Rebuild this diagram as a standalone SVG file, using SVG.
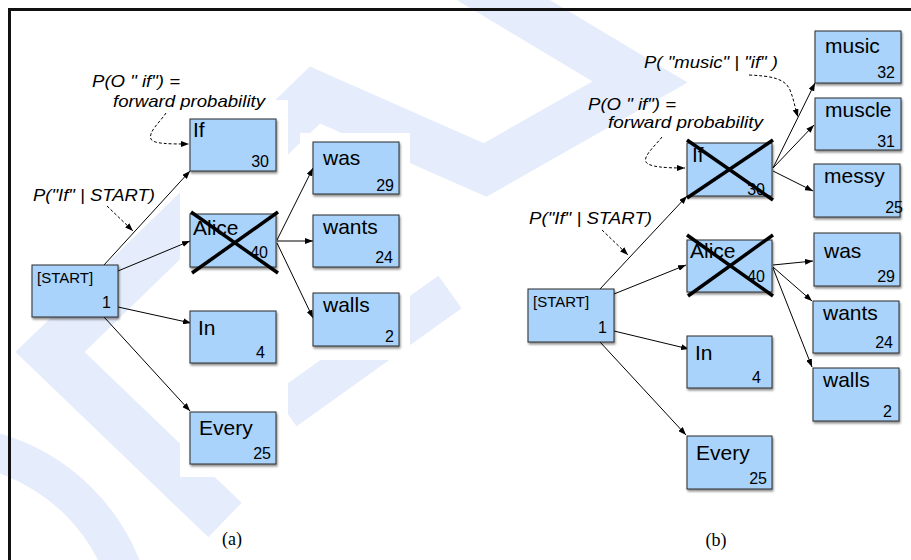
<svg xmlns="http://www.w3.org/2000/svg" width="911" height="560" viewBox="0 0 911 560">
<defs>
<marker id="ah" markerWidth="8" markerHeight="6" refX="8" refY="3" orient="auto" markerUnits="userSpaceOnUse"><path d="M0,0 L8,3 L0,6 z" fill="#000"/></marker>
<filter id="sh" x="-10%" y="-10%" width="130%" height="140%"><feDropShadow dx="1" dy="2" stdDeviation="1.2" flood-color="#000" flood-opacity="0.45"/></filter>
</defs>
<style>
.box{fill:#a9d3fb;stroke:#2b2b2b;stroke-width:1;filter:url(#sh)}
.lbl{font-family:"Liberation Sans",Arial,sans-serif;font-size:21px;fill:#000}
.st{font-size:15px}
.num{font-family:"Liberation Sans",Arial,sans-serif;font-size:16px;fill:#000;text-anchor:end}
.ann{font-family:"Liberation Sans",Arial,sans-serif;font-size:17px;font-style:italic;fill:#000}
.cap{font-family:"Liberation Serif","Times New Roman",serif;font-size:18px;text-anchor:middle;fill:#000}
.edge{stroke:#000;stroke-width:1;fill:none;marker-end:url(#ah)}
.dash{stroke:#000;stroke-width:1;fill:none;stroke-dasharray:3 2;marker-end:url(#ah)}
.x{stroke:#000;stroke-width:3.5}
.wm{fill:none;stroke:#e5ecfb}
</style>
<rect width="911" height="560" fill="#fff"/>
<g id="watermark">
<polyline class="wm" stroke-width="48" stroke-linejoin="miter" stroke-miterlimit="10" points="225,520 50,352 315,95 485,170 640,82 470,-20"/>
<circle class="wm" cx="-60" cy="640" r="196" stroke-width="38"/>
<line class="wm" x1="450" y1="292" x2="285" y2="410" stroke-width="40"/>
<rect x="180" y="100" width="108" height="377" fill="#fff"/>
<rect x="300" y="133" width="110" height="227" fill="#fff"/>
</g>
<path d="M9.5,560 V9.5 H911" fill="none" stroke="#111" stroke-width="3"/>
<g id="connectors">
<line class="edge" x1="104" y1="265" x2="190" y2="171"/>
<line class="edge" x1="118" y1="271" x2="190" y2="241"/>
<line class="edge" x1="118" y1="307" x2="191" y2="323"/>
<line class="edge" x1="104" y1="317" x2="190" y2="411"/>
<line class="edge" x1="277" y1="240" x2="313" y2="168"/>
<line class="edge" x1="277" y1="241" x2="313" y2="241"/>
<line class="edge" x1="277" y1="243" x2="313" y2="318"/>
<path class="dash" d="M166,113 C160,122 148,132 151,139 C153,144 170,144 189,144"/>
<path class="dash" d="M107,206 L133,231"/>
<line class="edge" x1="600" y1="289" x2="687" y2="196"/>
<line class="edge" x1="614" y1="294" x2="686" y2="265"/>
<line class="edge" x1="614" y1="331" x2="689" y2="349"/>
<line class="edge" x1="600" y1="342" x2="686" y2="435"/>
<line class="edge" x1="773" y1="168" x2="815" y2="83"/>
<line class="edge" x1="773" y1="168" x2="814" y2="125"/>
<line class="edge" x1="773" y1="171" x2="813" y2="191"/>
<line class="edge" x1="773" y1="265" x2="813" y2="261"/>
<line class="edge" x1="773" y1="267" x2="812" y2="301"/>
<line class="edge" x1="773" y1="268" x2="812" y2="367"/>
<path class="dash" d="M749,75 C770,76 785,78 790,90 C794,100 795,108 798,117"/>
<path class="dash" d="M662,137 C655,146 643,156 646,162 C649,167 665,168 685,168"/>
<path class="dash" d="M602,230 L628,255"/>
</g>
<g id="a-start"><rect class="box" x="32" y="265" width="86" height="52"/><text class="lbl st" x="37" y="283">[START]</text><text class="num" x="111" y="308">1</text></g>
<g id="a-if"><rect class="box" x="190" y="119" width="86" height="52"/><text class="lbl" x="193" y="137">If</text><text class="num" x="269" y="167">30</text></g>
<g id="a-alice"><rect class="box" x="190" y="214" width="86" height="53"/><text class="lbl" x="193" y="235">Alice</text><text class="num" x="268" y="258">40</text><line class="x" x1="191" y1="212" x2="278" y2="273"/><line class="x" x1="192" y1="273" x2="278" y2="212"/></g>
<g id="a-in"><rect class="box" x="190" y="311" width="86" height="52"/><text class="lbl" x="198" y="335">In</text><text class="num" x="265" y="358">4</text></g>
<g id="a-every"><rect class="box" x="190" y="412" width="86" height="52"/><text class="lbl" x="199" y="435">Every</text><text class="num" x="271" y="459">25</text></g>
<g id="a-was"><rect class="box" x="313" y="142" width="86" height="52"/><text class="lbl" x="323" y="165">was</text><text class="num" x="394" y="191">29</text></g>
<g id="a-wants"><rect class="box" x="313" y="215" width="86" height="52"/><text class="lbl" x="323" y="234">wants</text><text class="num" x="393" y="263">24</text></g>
<g id="a-walls"><rect class="box" x="313" y="293" width="86" height="53"/><text class="lbl" x="323" y="312">walls</text><text class="num" x="394" y="342">2</text></g>
<g id="a-notes">
<text class="ann" x="92" y="87" textLength="88" lengthAdjust="spacingAndGlyphs">P(O " if") =</text>
<text class="ann" x="113" y="107" textLength="152" lengthAdjust="spacingAndGlyphs">forward probability</text>
<text class="ann" x="33" y="201" textLength="122" lengthAdjust="spacingAndGlyphs">P("If" | START)</text>
<text class="cap" x="232" y="545">(a)</text>
</g>
<g id="b-start"><rect class="box" x="528" y="289" width="86" height="53"/><text class="lbl st" x="533" y="307">[START]</text><text class="num" x="607" y="333">1</text></g>
<g id="b-if"><rect class="box" x="687" y="143" width="85" height="53"/><text class="lbl" x="692" y="162">If</text><text class="num" x="765" y="195">30</text><line class="x" x1="687" y1="140" x2="773" y2="200"/><line class="x" x1="687" y1="198" x2="773" y2="140"/></g>
<g id="b-alice"><rect class="box" x="687" y="240" width="85" height="52"/><text class="lbl" x="690" y="258">Alice</text><text class="num" x="765" y="282">40</text><line class="x" x1="687" y1="235" x2="773" y2="296"/><line class="x" x1="688" y1="296" x2="773" y2="235"/></g>
<g id="b-in"><rect class="box" x="687" y="336" width="85" height="52"/><text class="lbl" x="695" y="360">In</text><text class="num" x="761" y="383">4</text></g>
<g id="b-every"><rect class="box" x="687" y="436" width="85" height="53"/><text class="lbl" x="696" y="460">Every</text><text class="num" x="767" y="484">25</text></g>
<g id="b-music"><rect class="box" x="815" y="31" width="86" height="52"/><text class="lbl" x="825" y="53">music</text><text class="num" x="895" y="78">32</text></g>
<g id="b-muscle"><rect class="box" x="815" y="98" width="86" height="52"/><text class="lbl" x="825" y="117">muscle</text><text class="num" x="895" y="147">31</text></g>
<g id="b-messy"><rect class="box" x="814" y="164" width="86" height="53"/><text class="lbl" x="824" y="183">messy</text><text class="num" x="903" y="213">25</text></g>
<g id="b-was"><rect class="box" x="814" y="233" width="86" height="53"/><text class="lbl" x="824" y="258">was</text><text class="num" x="895" y="282">29</text></g>
<g id="b-wants"><rect class="box" x="813" y="301" width="86" height="52"/><text class="lbl" x="823" y="320">wants</text><text class="num" x="893" y="348">24</text></g>
<g id="b-walls"><rect class="box" x="813" y="368" width="86" height="53"/><text class="lbl" x="823" y="387">walls</text><text class="num" x="892" y="417">2</text></g>
<g id="b-notes">
<text class="ann" x="644" y="68" textLength="134" lengthAdjust="spacingAndGlyphs">P( "music" | "if" )</text>
<text class="ann" x="588" y="110" textLength="88" lengthAdjust="spacingAndGlyphs">P(O " if") =</text>
<text class="ann" x="608" y="128" textLength="155" lengthAdjust="spacingAndGlyphs">forward probability</text>
<text class="ann" x="529" y="224" textLength="123" lengthAdjust="spacingAndGlyphs">P("If" | START)</text>
<text class="cap" x="716" y="546">(b)</text>
</g>
</svg>
